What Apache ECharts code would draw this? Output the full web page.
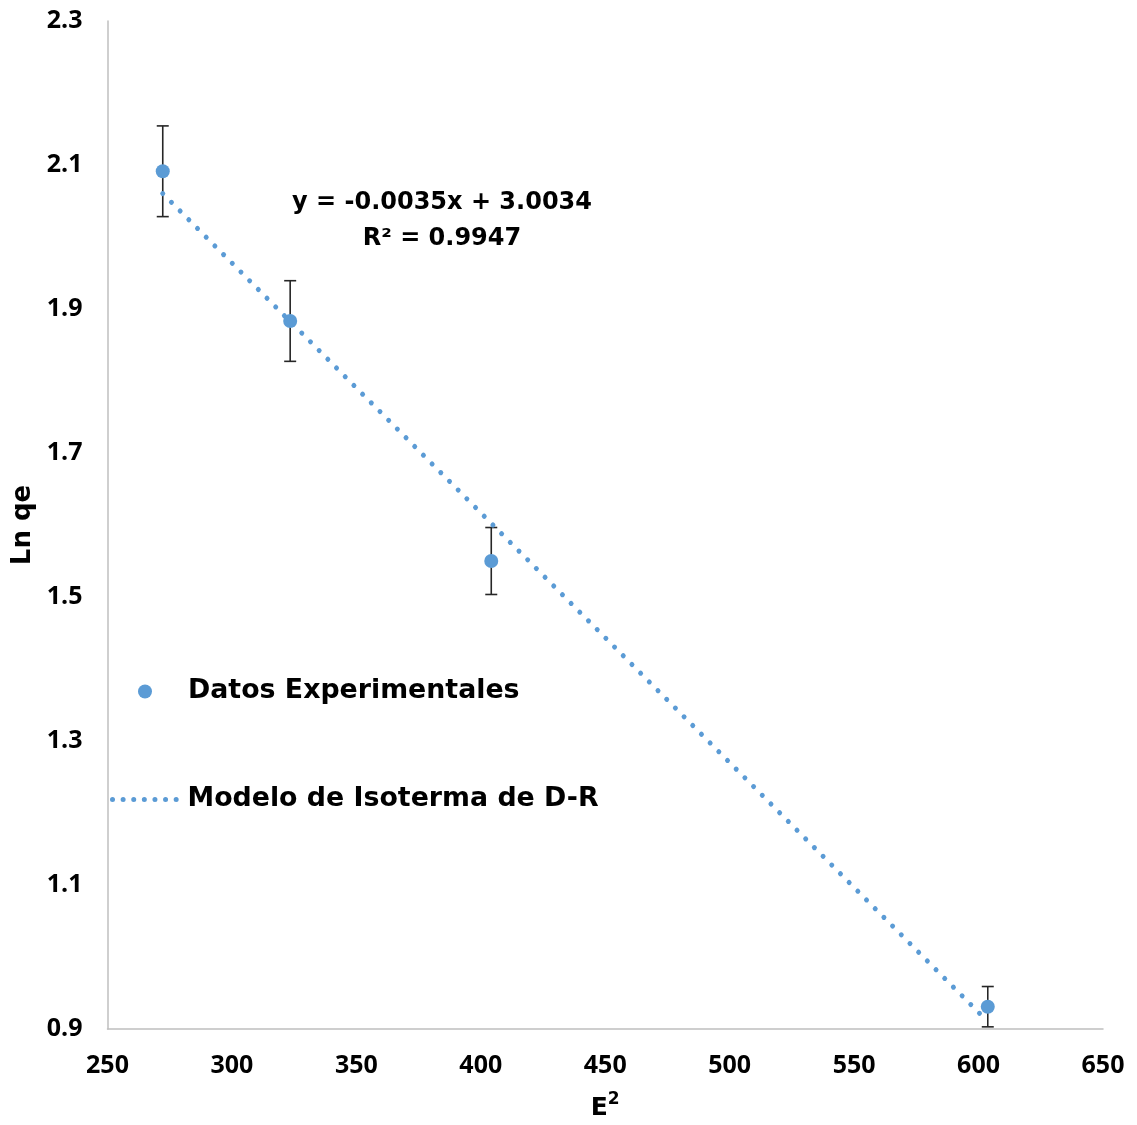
<!DOCTYPE html>
<html>
<head>
<meta charset="utf-8">
<script src="https://cdn.jsdelivr.net/npm/echarts@6/dist/echarts.min.js"></script>
<style>
  html, body { margin: 0; padding: 0; background: #ffffff; }
  #chart { width: 1137px; height: 1125px; }
</style>
</head>
<body>
<div id="chart"></div>
<script>
// Dubinin–Radushkevich isotherm: Ln qe against E²
const energySq = [272.2, 323.4, 404.2, 603.7];     // E²
const lnQe = [2.0913, 1.8833, 1.550, 0.931];       // Ln qe
const lnQeErr = [0.063, 0.056, 0.0465, 0.028];     // ± error
const xTicks = { min: 250, max: 650, step: 50 };
const yTicks = { min: 0.9, max: 2.3, step: 0.2 };
const seriesNames = ['Datos Experimentales', 'Modelo de Isoterma de D-R'];
const equationText = ['y = -0.0035x + 3.0034', 'R² = 0.9947'];

// least-squares fit through the measured points
function linearFit(xs, ys) {
  const n = xs.length;
  const mx = xs.reduce((a, b) => a + b, 0) / n;
  const my = ys.reduce((a, b) => a + b, 0) / n;
  let sxy = 0, sxx = 0;
  for (let i = 0; i < n; i++) {
    sxy += (xs[i] - mx) * (ys[i] - my);
    sxx += (xs[i] - mx) * (xs[i] - mx);
  }
  const slope = sxy / sxx;
  return { slope, intercept: my - slope * mx };
}
const fit = linearFit(energySq, lnQe);
const xLo = Math.min(...energySq), xHi = Math.max(...energySq);
const fitLine = [[xLo, fit.intercept + fit.slope * xLo], [xHi, fit.intercept + fit.slope * xHi]];

const points = energySq.map((x, i) => [x, lnQe[i]]);
const errData = energySq.map((x, i) => [x, lnQe[i] - lnQeErr[i], lnQe[i] + lnQeErr[i]]);

const blue = '#5b9bd5';
const tickFont = { fontFamily: '"Open Sans", sans-serif', fontWeight: 'bold', fontSize: 25, color: '#000' };
const textFont = 'DejaVu Sans';

const chart = echarts.init(document.getElementById('chart'), null, { renderer: 'canvas' });
chart.setOption({
  backgroundColor: '#ffffff',
  animation: false,
  grid: { left: 107.5, right: 34, top: 21, bottom: 96, containLabel: false, outerBoundsMode: 'none' },
  xAxis: {
    type: 'value',
    min: xTicks.min, max: xTicks.max, interval: xTicks.step,
    axisLine: { show: true, lineStyle: { color: '#bfbfbf', width: 1.5 } },
    axisTick: { show: false },
    splitLine: { show: false },
    axisLabel: Object.assign({ margin: 24 }, tickFont),
    name: '{e|E}{s|2}',
    nameLocation: 'middle',
    nameGap: 62,
    nameTextStyle: {
      rich: {
        e: { fontFamily: textFont, fontWeight: 'bold', fontSize: 25, color: '#000', lineHeight: 30, verticalAlign: 'bottom' },
        s: { fontFamily: textFont, fontWeight: 'bold', fontSize: 17, color: '#000', lineHeight: 30, verticalAlign: 'top', padding: [0, 0, 10, 0] }
      }
    }
  },
  yAxis: {
    type: 'value',
    min: yTicks.min, max: yTicks.max, interval: yTicks.step,
    axisLine: { show: true, onZero: false, lineStyle: { color: '#bfbfbf', width: 1.5 } },
    axisTick: { show: false },
    splitLine: { show: false },
    axisLabel: Object.assign({ margin: 25, formatter: v => v.toFixed(1) }, tickFont),
    name: 'Ln qe',
    nameLocation: 'middle',
    nameRotate: 90,
    nameGap: 68,
    nameTextStyle: { fontFamily: textFont, fontWeight: 'bold', fontSize: 26, color: '#000' }
  },
  legend: [
    {
      data: [seriesNames[0]],
      left: 138, top: 678,
      padding: 0,
      orient: 'vertical',
      itemWidth: 14, itemHeight: 14,
      textStyle: { fontFamily: textFont, fontWeight: 'bold', fontSize: 26.8, color: '#000', padding: [0, 0, 0, 31] }
    },
    {
      data: [seriesNames[1]],
      left: 110, top: 786,
      padding: 0,
      orient: 'vertical',
      itemWidth: 64, itemHeight: 14,
      itemStyle: { opacity: 0 },
      lineStyle: { width: 5, type: [0.01, 10.6], cap: 'round', color: blue },
      textStyle: { fontFamily: textFont, fontWeight: 'bold', fontSize: 26.8, color: '#000', padding: [0, 0, 0, 6] }
    }
  ],
  graphic: [{
    type: 'text',
    x: 442, y: 185,
    style: {
      text: equationText.join('\n'),
      textAlign: 'center',
      lineHeight: 36,
      fill: '#000',
      font: 'bold 24px "DejaVu Sans"'
    }
  }],
  series: [
    {
      name: 'errors',
      type: 'custom',
      z: 1,
      silent: true,
      renderItem: function (params, api) {
        const top = api.coord([api.value(0), api.value(2)]);
        const bot = api.coord([api.value(0), api.value(1)]);
        const half = 6;
        const st = { stroke: '#262626', lineWidth: 1.6 };
        return {
          type: 'group',
          children: [
            { type: 'line', shape: { x1: top[0], y1: top[1], x2: bot[0], y2: bot[1] }, style: st },
            { type: 'line', shape: { x1: top[0] - half, y1: top[1], x2: top[0] + half, y2: top[1] }, style: st },
            { type: 'line', shape: { x1: bot[0] - half, y1: bot[1], x2: bot[0] + half, y2: bot[1] }, style: st }
          ]
        };
      },
      encode: { x: 0, y: [1, 2] },
      data: errData
    },
    {
      name: seriesNames[1],
      type: 'line',
      z: 2,
      symbol: 'none',
      silent: true,
      lineStyle: { color: blue, width: 5, type: [0.01, 12.3], cap: 'round' },
      itemStyle: { color: blue },
      data: fitLine
    },
    {
      name: seriesNames[0],
      type: 'scatter',
      z: 3,
      symbol: 'circle',
      symbolSize: 14,
      itemStyle: { color: blue, opacity: 1 },
      data: points
    }
  ]
});
</script>
</body>
</html>
